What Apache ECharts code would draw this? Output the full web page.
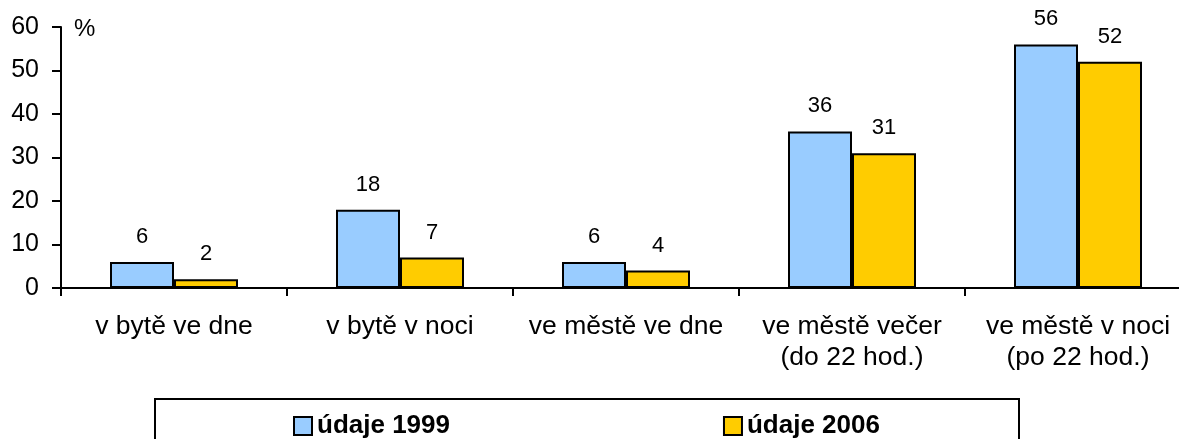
<!DOCTYPE html>
<html>
<head>
<meta charset="utf-8">
<script src="https://cdn.jsdelivr.net/npm/echarts@6/dist/echarts.min.js"></script>
<style>
  html, body { margin: 0; padding: 0; background: #fff; overflow: hidden; }
  #chart { width: 1191px; height: 439px; }
</style>
</head>
<body>
<div id="chart"></div>
<script>
// kategorie a hodnoty (%)
const categories = [
  'v bytě ve dne',
  'v bytě v noci',
  've městě ve dne',
  've městě večer\n(do 22 hod.)',
  've městě v noci\n(po 22 hod.)'
]
const data1999 = [6, 18, 6, 36, 56]
const data2006 = [2, 7, 4, 31, 52]
const seriesNames = ['údaje 1999', 'údaje 2006']
const yTicks = { min: 0, max: 60, interval: 10 }

const FONT = 'Liberation Sans, Arial, sans-serif'
const COLORS = ['#99CCFF', '#FFCC00']
const AXIS_LINE = { lineStyle: { color: '#000', width: 2 } }

// graf je o kousek širší než okno, pravý okraj osy x je uříznutý
const chart = echarts.init(document.getElementById('chart'))

chart.setOption({
  animation: false,
  textStyle: { fontFamily: FONT, color: '#000' },
  grid: { left: 61, right: 0, top: 27, bottom: 151 },
  legend: {
    left: 288, top: 408,
    icon: 'rect',
    itemWidth: 18, itemHeight: 18, itemGap: 273,
    textStyle: { fontFamily: FONT, fontSize: 26, fontWeight: 'bold', color: '#000' },
    data: seriesNames
  },
  graphic: [
    {
      type: 'rect',
      shape: { x: 155, y: 399, width: 864, height: 60 },
      style: { fill: 'none', stroke: '#000', lineWidth: 2 },
      z: 0
    },
    {
      type: 'text', left: 74, top: 17,
      style: { text: '%', font: '24px ' + FONT, fill: '#000' }
    }
  ],
  xAxis: {
    type: 'category',
    data: categories,
    axisLine: AXIS_LINE,
    axisTick: { show: true, length: 8, lineStyle: { color: '#000', width: 2 } },
    axisLabel: { fontSize: 26.5, color: '#000', margin: 23, lineHeight: 31, interval: 0 }
  },
  yAxis: {
    type: 'value',
    min: yTicks.min, max: yTicks.max, interval: yTicks.interval,
    axisLine: { show: true, ...AXIS_LINE },
    axisTick: { show: true, length: 9, lineStyle: { color: '#000', width: 2 } },
    axisLabel: { fontSize: 25, color: '#000', margin: 22 },
    splitLine: { show: false }
  },
  series: [data1999, data2006].map((d, i) => ({
    name: seriesNames[i],
    type: 'bar',
    barWidth: 64,
    barGap: '0%',
    itemStyle: { color: COLORS[i], borderColor: '#000', borderWidth: 2 },
    label: { show: true, position: 'top', distance: 14, fontSize: 22, color: '#000' },
    data: d
  }))
})
</script>
</body>
</html>
